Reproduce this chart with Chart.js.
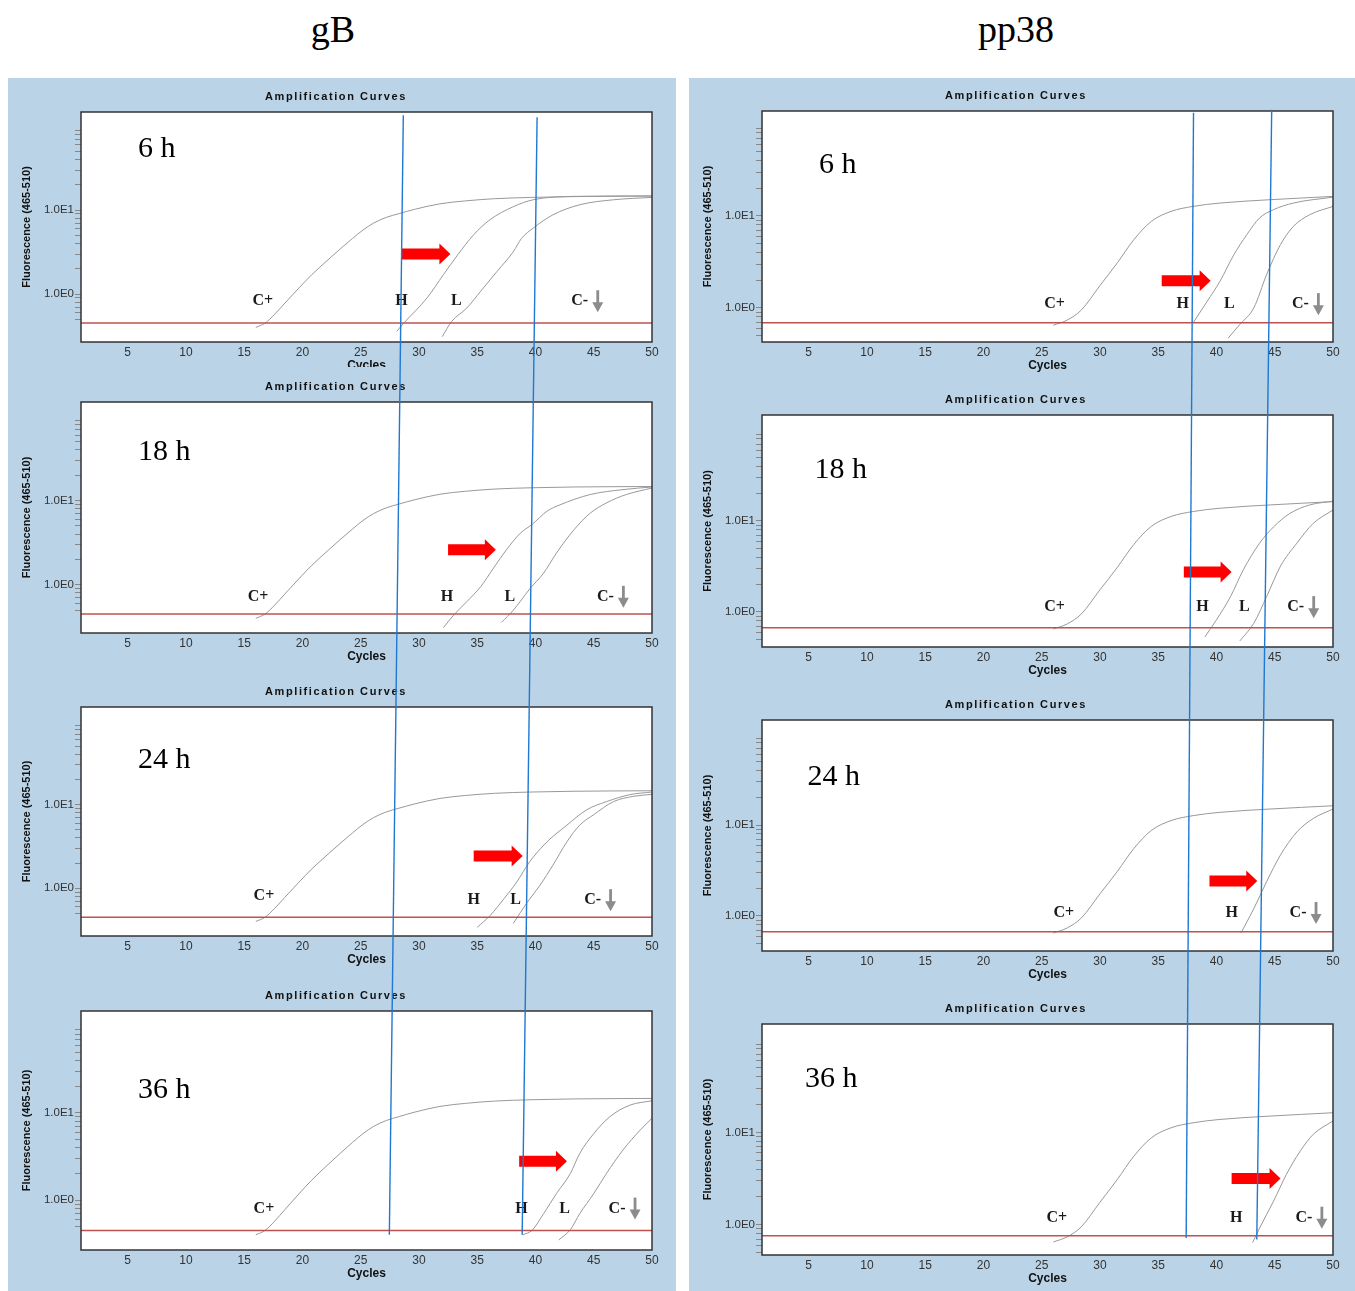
<!DOCTYPE html>
<html>
<head>
<meta charset="utf-8">
<script src="https://cdn.jsdelivr.net/npm/chart.js@4.4.1/dist/chart.umd.min.js"></script>
<style>
  body { margin: 0; background: #fff; width: 1355px; height: 1291px; position: relative; overflow: hidden; }
  .col-title { position: absolute; top: 6px; font-family: "Liberation Serif", "Times New Roman", serif;
               font-size: 38px; line-height: 46px; transform: translateX(-50%); color: #000; }
  canvas { position: absolute; background: #bad3e6; }
</style>
</head>
<body>
<script>
// --------------------
// Axis ticks / names
// --------------------
const columnNames = ['gB', 'pp38'];
const timePoints = ['6 h', '18 h', '24 h', '36 h'];
const xTicks = [5, 10, 15, 20, 25, 30, 35, 40, 45, 50];
const yTicks = [0.5, 0.6, 0.7, 0.8, 0.9, 1, 2, 3, 4, 5, 6, 7, 8, 9, 10, 20, 30, 40, 50, 60, 70, 80, 90];
const yLabelValues = [1, 10];
const yLabelTexts = ['1.0E0', '1.0E1'];

// --------------------
// Thresholds (fluorescence)
// --------------------
const gbThreshold = [0.45, 0.45, 0.45, 0.45];
const ppThreshold = [0.69, 0.67, 0.67, 0.76];

// --------------------
// Curves: [cycle, fluorescence]
// --------------------
const gbCpos = [[16.0, 0.40], [16.8, 0.45], [17.6, 0.57], [18.5, 0.78], [19.7, 1.18], [20.8, 1.7], [22.2, 2.56],
  [23.3, 3.5], [24.3, 4.6], [25.2, 5.8], [26.1, 7.0], [27.2, 8.2], [28.3, 9.1], [29.6, 10.2], [31.8, 11.9],
  [34.0, 12.9], [36.5, 13.7], [39.7, 14.2], [43.3, 14.5], [50, 14.7]];
const gbH6 = [[28.1, 0.36], [28.7, 0.45], [30.7, 0.9], [32.1, 1.7], [33.3, 2.9], [34.7, 5.1], [36.1, 7.7],
  [38.1, 11.0], [39.8, 13.3], [43.3, 14.6], [50, 14.8]];
const gbL6 = [[32.0, 0.31], [32.8, 0.47], [34.1, 0.68], [35.3, 1.08], [36.7, 1.86], [38.1, 3.2], [38.8, 4.6],
  [39.8, 6.1], [41.5, 8.8], [43.8, 11.6], [46.7, 13.3], [50, 14.2]];
const gbH18 = [[32.1, 0.31], [33.0, 0.44], [34.1, 0.63], [35.3, 0.95], [36.4, 1.58], [37.5, 2.6], [38.7, 4.1],
  [39.7, 5.2], [41.0, 7.5], [42.1, 8.9], [44.7, 11.8], [47.5, 13.5], [50, 14.5]];
const gbL18 = [[37.1, 0.36], [38.1, 0.5], [39.5, 0.89], [40.7, 1.38], [41.8, 2.38], [43.3, 4.5], [44.7, 7.1],
  [46.1, 9.4], [47.8, 11.8], [50, 14.1]];
const gbH24 = [[35.0, 0.34], [36.1, 0.47], [37.3, 0.75], [38.4, 1.19], [39.5, 2.07], [41.0, 3.6], [42.7, 5.7],
  [44.4, 8.7], [46.1, 10.9], [48.1, 13.2], [50, 14.2]];
const gbL24 = [[38.1, 0.38], [39.3, 0.68], [40.4, 1.09], [41.5, 1.89], [42.7, 3.6], [43.8, 5.7], [45.0, 7.6],
  [46.7, 10.9], [48.4, 12.6], [50, 13.3]];
const gbH36 = [[38.9, 0.40], [39.7, 0.45], [40.7, 0.70], [41.8, 1.19], [43.0, 2.03], [43.8, 3.44], [45.0, 5.8],
  [46.4, 9.1], [48.1, 12.3], [50, 13.8]];
const gbL36 = [[42.0, 0.35], [43.0, 0.46], [43.8, 0.70], [45.0, 1.19], [46.1, 2.03], [47.5, 3.75], [49.0, 6.4],
  [50, 8.7]];

const ppCpos = [[26.0, 0.65], [27.2, 0.74], [28.4, 0.95], [30.0, 1.75], [31.5, 3.1], [32.9, 5.5], [34.4, 8.7],
  [36.1, 11.2], [38.0, 12.7], [40.3, 13.8], [44.6, 15.0], [50, 16.3]];
const ppH6 = [[38.0, 0.69], [39.2, 1.18], [40.3, 1.95], [41.5, 3.8], [42.6, 6.25], [43.7, 9.5], [44.9, 11.7],
  [46.6, 13.8], [50, 16.0]];
const ppL6 = [[41.0, 0.47], [42.0, 0.66], [43.2, 1.0], [44.3, 2.3], [45.5, 4.9], [46.6, 7.7], [48.0, 10.3],
  [50, 12.7]];
const ppH18 = [[39.0, 0.53], [40.0, 0.82], [41.2, 1.47], [42.3, 2.9], [43.7, 5.7], [44.9, 8.6], [46.3, 12.1],
  [48.0, 15.0], [50, 16.5]];
const ppL18 = [[42.0, 0.48], [43.2, 0.75], [44.3, 1.47], [45.5, 3.2], [46.9, 5.7], [48.3, 9.4], [50, 13.2]];
const ppH24 = [[42.1, 0.65], [43.2, 1.2], [44.3, 2.38], [45.5, 4.7], [46.9, 8.4], [48.3, 11.8], [50, 15.0]];
const ppH36 = [[43.1, 0.64], [43.7, 0.92], [44.9, 1.8], [46.0, 3.5], [47.2, 6.3], [48.3, 9.5], [50, 13.3]];

// --------------------
// Annotations in data units [cycle, fluorescence]
// --------------------
const gbNotes = [
  { time: [5.9, 53], labels: [['C+', 16.6, 0.82], ['H', 28.5, 0.82], ['L', 33.2, 0.82], ['C-', 43.8, 0.82]], arrow: [28.5, 32.7, 3.0] },
  { time: [5.9, 38], labels: [['C+', 16.2, 0.72], ['H', 32.4, 0.72], ['L', 37.8, 0.72], ['C-', 46.0, 0.72]], arrow: [32.5, 36.6, 2.6] },
  { time: [5.9, 34], labels: [['C+', 16.7, 0.82], ['H', 34.7, 0.72], ['L', 38.3, 0.72], ['C-', 44.9, 0.72]], arrow: [34.7, 38.9, 2.43] },
  { time: [5.9, 18.4], labels: [['C+', 16.7, 0.8], ['H', 38.8, 0.8], ['L', 42.5, 0.8], ['C-', 47.0, 0.8]], arrow: [38.6, 42.7, 2.8] }
];
const ppNotes = [
  { time: [5.9, 35.8], labels: [['C+', 26.1, 1.1], ['H', 37.1, 1.1], ['L', 41.1, 1.1], ['C-', 47.2, 1.1]], arrow: [35.3, 39.5, 1.97] },
  { time: [5.5, 36.4], labels: [['C+', 26.1, 1.13], ['H', 38.8, 1.13], ['L', 42.4, 1.13], ['C-', 46.8, 1.13]], arrow: [37.2, 41.3, 2.75] },
  { time: [4.9, 33.7], labels: [['C+', 26.9, 1.08], ['H', 41.3, 1.08], ['C-', 47.0, 1.08]], arrow: [39.4, 43.5, 2.42] },
  { time: [4.7, 37.7], labels: [['C+', 26.3, 1.19], ['H', 41.7, 1.19], ['C-', 47.5, 1.19]], arrow: [41.3, 45.5, 3.16] }
];

// Ct guide lines: from [panel, cycle, fluorescence] to [panel, cycle, fluorescence]
const gbCtLines = [
  { from: [0, 28.66, 135], to: [3, 27.46, 0.4] },
  { from: [0, 40.14, 128], to: [3, 38.86, 0.4] }
];
const ppCtLines = [
  { from: [0, 38.03, 132], to: [3, 37.4, 0.72] },
  { from: [0, 44.74, 142], to: [3, 43.46, 0.69] }
];

const columnData = [
  { thresholds: gbThreshold, notes: gbNotes, ct: gbCtLines,
    curves: [[gbCpos, gbH6, gbL6], [gbCpos, gbH18, gbL18], [gbCpos, gbH24, gbL24], [gbCpos, gbH36, gbL36]] },
  { thresholds: ppThreshold, notes: ppNotes, ct: ppCtLines,
    curves: [[ppCpos, ppH6, ppL6], [ppCpos, ppH18, ppL18], [ppCpos, ppH24], [ppCpos, ppH36]] }
];

// --------------------
// Page layout (pixels)
// --------------------
const PAGE_H = 1291;
const SANS = '"Liberation Sans", Arial, sans-serif';
const SERIF = '"Liberation Serif", "Times New Roman", serif';

const layoutGeom = [
  { left: 8, width: 668, plotLeft: 81, plotRight: 652, titleX: 333,
    bands: [[78, 112, 342], [367, 402, 633], [675, 707, 936], [978, 1011, 1250]],
    yRange: [[0.268, 148], [0.268, 148], [0.268, 148], [0.268, 148]] },
  { left: 689, width: 666, plotLeft: 762, plotRight: 1333, titleX: 1016,
    bands: [[78, 111, 342], [385, 415, 647], [690, 720, 951], [993, 1024, 1255]],
    yRange: [[0.427, 138], [0.412, 146], [0.412, 143], [0.47, 149]] }
];

const pageCharts = [[], []];
const ctSegments = [null, null];

// --------------------
// Drawing helpers
// --------------------
function drawBlockArrow(ctx, x0, x1, y) {
  const shaft = 5.5, head = 10.5, headLen = 11;
  ctx.beginPath();
  ctx.moveTo(x0, y - shaft);
  ctx.lineTo(x1 - headLen, y - shaft);
  ctx.lineTo(x1 - headLen, y - head);
  ctx.lineTo(x1, y);
  ctx.lineTo(x1 - headLen, y + head);
  ctx.lineTo(x1 - headLen, y + shaft);
  ctx.lineTo(x0, y + shaft);
  ctx.closePath();
  ctx.fillStyle = '#ff0000';
  ctx.fill();
}

function drawDownArrow(ctx, x, y) {
  ctx.fillStyle = '#8c8c8c';
  ctx.fillRect(x - 1.4, y - 11, 2.8, 13);
  ctx.beginPath();
  ctx.moveTo(x - 5.5, y + 1);
  ctx.lineTo(x + 5.5, y + 1);
  ctx.lineTo(x, y + 11);
  ctx.closePath();
  ctx.fill();
}

function decorPlugin(ci, pi) {
  const geom = layoutGeom[ci];
  const note = columnData[ci].notes[pi];
  const canvasTop = geom.bands[pi][0];
  return {
    id: 'decor',
    beforeDraw(chart) {
      const { ctx, chartArea: a } = chart;
      ctx.save();
      ctx.fillStyle = '#fff';
      ctx.fillRect(a.left, a.top, a.right - a.left, a.bottom - a.top);
      ctx.restore();
    },
    afterDatasetsDraw(chart) {
      const { ctx, chartArea: a, scales: { x, y } } = chart;
      ctx.save();
      // plot frame
      ctx.strokeStyle = '#333';
      ctx.lineWidth = 1.5;
      ctx.strokeRect(a.left, a.top, a.right - a.left, a.bottom - a.top);

      // panel title
      ctx.font = 'bold 11px ' + SANS;
      ctx.letterSpacing = '1.6px';
      ctx.fillStyle = '#111';
      ctx.textAlign = 'center';
      ctx.textBaseline = 'middle';
      ctx.fillText('Amplification Curves', chart.width / 2 - 6, a.top - 15);
      ctx.letterSpacing = '0px';

      // time label
      ctx.font = '30px ' + SERIF;
      ctx.textAlign = 'left';
      ctx.fillStyle = '#000';
      ctx.fillText(timePoints[pi], x.getPixelForValue(note.time[0]), y.getPixelForValue(note.time[1]));

      // sample labels
      ctx.font = 'bold 16px ' + SERIF;
      ctx.textAlign = 'center';
      note.labels.forEach(([txt, cx, cy]) => {
        const px = x.getPixelForValue(cx), py = y.getPixelForValue(cy);
        ctx.fillStyle = '#1a1a1a';
        ctx.fillText(txt, px, py);
        if (txt === 'C-') drawDownArrow(ctx, px + 18, py);
      });

      // red arrow
      const [ax0, ax1, ay] = note.arrow;
      drawBlockArrow(ctx, x.getPixelForValue(ax0), x.getPixelForValue(ax1), y.getPixelForValue(ay));
      ctx.restore();
    },
    afterDraw(chart) {
      const segs = ctSegments[ci];
      if (!segs) return;
      const ctx = chart.ctx;
      ctx.save();
      ctx.strokeStyle = '#1f78d1';
      ctx.lineWidth = 1.4;
      segs.forEach(s => {
        ctx.beginPath();
        ctx.moveTo(s.x1 - geom.left, s.y1 - canvasTop);
        ctx.lineTo(s.x2 - geom.left, s.y2 - canvasTop);
        ctx.stroke();
      });
      ctx.restore();
    }
  };
}

// --------------------
// Panel creation
// --------------------
function createPanel(ci, pi) {
  const geom = layoutGeom[ci];
  const col = columnData[ci];
  const [top, plotTop, plotBottom] = geom.bands[pi];
  const next = geom.bands[pi + 1];
  const bottom = Math.min(PAGE_H, Math.max(plotBottom + 40, next ? next[0] : PAGE_H));
  const height = bottom - top;
  const xAxisH = 31;

  const canvas = document.createElement('canvas');
  canvas.width = geom.width;
  canvas.height = height;
  canvas.style.left = geom.left + 'px';
  canvas.style.top = top + 'px';
  canvas.style.width = geom.width + 'px';
  canvas.style.height = height + 'px';
  document.body.appendChild(canvas);

  const thr = col.thresholds[pi];
  const datasets = [{
    data: [{ x: 1, y: thr }, { x: 50, y: thr }],
    borderColor: '#c0504d',
    borderWidth: 1.5
  }].concat(col.curves[pi].map(c => ({
    data: c.map(([cx, cy]) => ({ x: cx, y: cy })),
    borderColor: '#999',
    borderWidth: 1,
    cubicInterpolationMode: 'monotone'
  })));

  const [yMin, yMax] = geom.yRange[pi];

  return new Chart(canvas, {
    type: 'line',
    data: { datasets },
    options: {
      responsive: false,
      animation: false,
      devicePixelRatio: 1,
      events: [],
      layout: {
        padding: {
          left: 0,
          top: plotTop - top,
          right: geom.left + geom.width - geom.plotRight,
          bottom: bottom - plotBottom - xAxisH
        }
      },
      elements: { point: { radius: 0 } },
      plugins: { legend: { display: false }, tooltip: { enabled: false }, title: { display: false } },
      scales: {
        x: {
          type: 'linear', min: 1, max: 50,
          grid: { display: false, drawTicks: false },
          border: { display: false },
          afterBuildTicks: s => { s.ticks = xTicks.map(v => ({ value: v })); },
          afterFit: s => { s.height = xAxisH; },
          ticks: { padding: 3, autoSkip: false, maxRotation: 0, color: '#333', font: { family: SANS, size: 12 } },
          title: { display: true, text: 'Cycles', color: '#111', padding: { top: 0, bottom: 0 },
                   font: { family: SANS, size: 12, weight: 'bold' } }
        },
        y: {
          type: 'logarithmic', min: yMin, max: yMax, position: 'left',
          grid: { drawOnChartArea: false, drawTicks: true, tickLength: 6, color: '#888' },
          border: { display: false },
          afterBuildTicks: s => {
            s.ticks = yTicks.filter(v => v >= s.min && v <= s.max).map(v => ({ value: v }));
          },
          afterFit: s => { s.width = geom.plotLeft - geom.left; },
          ticks: {
            autoSkip: false, padding: 1, color: '#333', font: { family: SANS, size: 11.5 },
            callback: v => {
              const i = yLabelValues.findIndex(t => Math.abs(t - v) < 1e-9);
              return i >= 0 ? yLabelTexts[i] : '';
            }
          },
          title: { display: true, text: 'Fluorescence (465-510)', color: '#111', padding: { top: 12.4, bottom: 0 },
                   font: { family: SANS, size: 11, weight: 'bold' } }
        }
      }
    },
    plugins: [decorPlugin(ci, pi)]
  });
}

// --------------------
// Bootstrapping
// --------------------
columnNames.forEach((name, ci) => {
  const el = document.createElement('div');
  el.className = 'col-title';
  el.style.left = layoutGeom[ci].titleX + 'px';
  el.textContent = name;
  document.body.appendChild(el);
});

columnData.forEach((col, ci) => {
  for (let pi = 0; pi < timePoints.length; pi++) {
    pageCharts[ci].push(createPanel(ci, pi));
  }
});

// Ct lines run across the whole column, so they need page coordinates from each panel's scales
columnData.forEach((col, ci) => {
  const geom = layoutGeom[ci];
  ctSegments[ci] = col.ct.map(l => {
    const a = pageCharts[ci][l.from[0]];
    const b = pageCharts[ci][l.to[0]];
    return {
      x1: geom.left + a.scales.x.getPixelForValue(l.from[1]),
      y1: geom.bands[l.from[0]][0] + a.scales.y.getPixelForValue(l.from[2]),
      x2: geom.left + b.scales.x.getPixelForValue(l.to[1]),
      y2: geom.bands[l.to[0]][0] + b.scales.y.getPixelForValue(l.to[2])
    };
  });
  pageCharts[ci].forEach(c => c.draw());
});
</script>
</body>
</html>
